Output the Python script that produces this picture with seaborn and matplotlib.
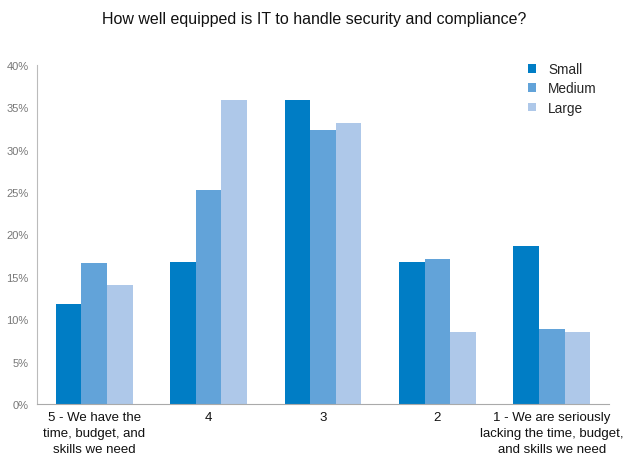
import pandas as pd
import numpy as np
import matplotlib.pyplot as plt
import seaborn as sns
from matplotlib.ticker import PercentFormatter

# Datos
categorias = ['5 - We have the\ntime, budget, and\nskills we need', '4', '3', '2',
              '1 - We are seriously\nlacking the time, budget,\nand skills we need']
small = [11.8, 16.8, 35.9, 16.8, 18.6]
medium = [16.6, 25.3, 32.3, 17.1, 8.8]
large = [14.1, 35.9, 33.1, 8.5, 8.5]
tamanos = ['Small', 'Medium', 'Large']

df = pd.DataFrame({
    'Respuesta': categorias * 3,
    'Tamaño': np.repeat(tamanos, len(categorias)),
    'Valor': small + medium + large,
})

sns.set_style('white')
plt.rcParams['font.family'] = ['Liberation Sans', 'DejaVu Sans']

colores = ['#007DC5', '#62A3D9', '#AEC8E9']

fig = plt.figure(figsize=(6.28, 4.64), dpi=100)
ax = fig.add_axes([37 / 628, 1 - 405 / 464, (609 - 37) / 628, (405 - 66) / 464])
sns.barplot(data=df, x='Respuesta', y='Valor', hue='Tamaño', palette=colores,
            width=0.67, gap=0, saturation=1, ax=ax, linewidth=0)

ax.set_ylim(0, 40)
ax.set_xlim(-0.5, 4.5)
ax.set_yticks(range(0, 41, 5))
ax.yaxis.set_major_formatter(PercentFormatter(decimals=0))
ax.tick_params(axis='y', labelsize=8, labelcolor='#777777', length=0, pad=6)
ax.tick_params(axis='x', labelsize=9.5, labelcolor='#111111', length=0, pad=5)
for t in ax.get_xticklabels():
    t.set_linespacing(1.42)
ax.set_xlabel('')
ax.set_ylabel('')

for lado in ['top', 'right']:
    ax.spines[lado].set_visible(False)
ax.spines['left'].set_color('#BBBBBB')
ax.spines['bottom'].set_color('#AAAAAA')

ax.legend(loc='upper right', bbox_to_anchor=(1.0, 1.045), frameon=False,
          fontsize=9.8, handlelength=0.6, handleheight=0.6, handletextpad=0.9,
          labelspacing=0.4)

fig.suptitle('How well equipped is IT to handle security and compliance?',
             y=0.975, fontsize=11.5, color='#111111')

fig.savefig('out.png', dpi=100)
